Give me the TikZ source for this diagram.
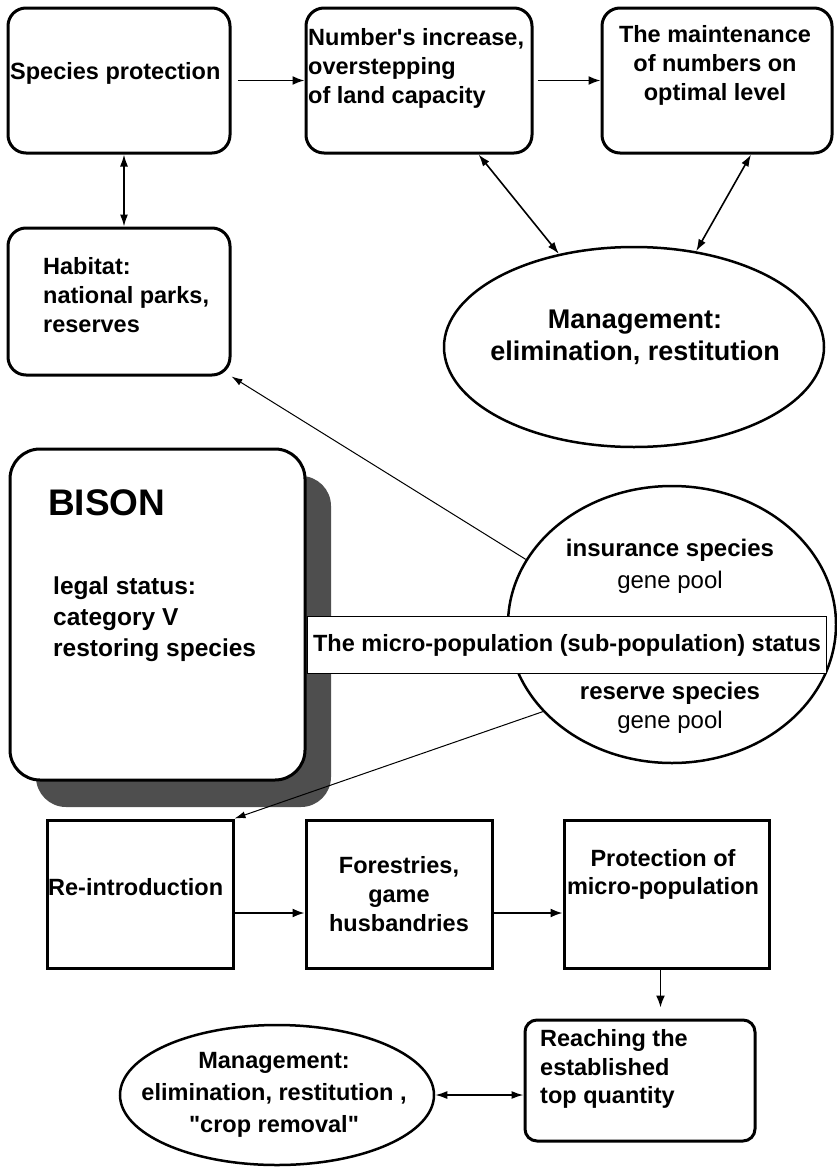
\documentclass[tikz,border=0pt]{standalone}
\usepackage{fontspec}
\newfontfamily\diagfont{Liberation Sans}
\usetikzlibrary{arrows.meta,shapes.geometric,shadows}
\definecolor{shadowgray}{RGB}{78,78,78}

\begin{document}
\begin{tikzpicture}[x=1pt,y=-1pt,
    box/.style={draw,line width=3pt,rounded corners=18pt,inner sep=0pt},
    sqbox/.style={draw,line width=3pt,inner sep=0pt},
    oval/.style={draw,ellipse,line width=2.5pt,inner sep=0pt},
    txt/.style={inner sep=0pt,font=\diagfont\fontsize{23.5}{29}\selectfont\bfseries},
    arr/.style={line width=1.8pt,-{Latex[length=12pt,width=9pt]}},
    darr/.style={line width=1.6pt,{Latex[length=12pt,width=8pt]}-{Latex[length=12pt,width=8pt]}},
    lnk/.style={line width=1pt,-{Latex[length=11pt,width=7pt]}}]
    \useasboundingbox (0,0) rectangle (836,1167);

    % Top row of boxes
    \node[box,minimum width=222pt,minimum height=145pt] (sp) at (119,80.5) {};
    \node[txt,anchor=west] (tsp) at (10,73) {Species protection};
    \node[box,minimum width=226pt,minimum height=145pt] (num) at (419,80.5) {};
    \node[txt,anchor=west,align=left] (tnum) at (308,68) {Number's increase,\\overstepping\\of land capacity};
    \node[box,minimum width=230pt,minimum height=145pt] (mt) at (717,80.5) {};
    \node[txt,align=center] (tmt) at (715,65) {The maintenance\\of numbers on\\optimal level};

    % Habitat and management
    \node[box,minimum width=222pt,minimum height=147pt] (hab) at (119,301.5) {};
    \node[txt,anchor=west,align=left] (thab) at (43,295) {Habitat:\\national parks,\\reserves};
    \node[oval,minimum width=380pt,minimum height=200pt] (mgmt) at (634,347) {};
    \node[txt,align=center,font=\diagfont\fontsize{27}{32}\selectfont\bfseries] (tmgmt) at (635,337) {Management:\\elimination, restitution};

    % Top arrows
    \draw[arr,shorten <=6pt] (sp.east) -- (num.west);
    \draw[arr,shorten <=4pt] (num.east) -- (mt.west);
    \draw[darr] ([xshift=5pt]sp.south) -- ([xshift=5pt]hab.north);
    \draw[darr] (num) -- (mgmt);
    \draw[darr] ([xshift=34pt]mt.south) -- (mgmt.57);

    % Bison box with its shadow
    \node[box,rounded corners=30pt,fill=white,minimum width=295pt,minimum height=331pt,
          drop shadow={shadow xshift=26pt,shadow yshift=-27pt,fill=shadowgray,opacity=1}] (bison) at (157.5,614.5) {};
    \node[txt,anchor=west,font=\diagfont\fontsize{37}{40}\selectfont\bfseries] (tbison) at (48,503) {BISON};
    \node[txt,anchor=west,align=left,font=\diagfont\fontsize{24.5}{31}\selectfont\bfseries] (tlegal) at (53,619) {legal status:\\category V\\restoring species};

    % Gene pool ellipse and status
    \node[oval,minimum width=328pt,minimum height=277pt] (ins) at (672,624.5) {};
    \node[txt,align=center,font=\diagfont\fontsize{24}{32}\selectfont\bfseries] (tins) at (670,566) {insurance species\\{\mdseries gene pool}};
    \node[txt,align=center,font=\diagfont\fontsize{24}{29}\selectfont\bfseries] (tres) at (670,708) {reserve species\\{\mdseries gene pool}};
    \node[draw,txt,line width=1.6pt,fill=white,minimum width=519pt,minimum height=57pt] (status) at (567,645) {The micro-population (sub-population) status};

    % Bottom row of boxes
    \node[sqbox,minimum width=186pt,minimum height=148pt] (re) at (140,894) {};
    \node[txt,anchor=west] (tre) at (48,887) {Re-introduction};
    \node[sqbox,txt,align=center,minimum width=186pt,minimum height=148pt] (fo) at (399,894) {Forestries,\\game\\husbandries};
    \node[sqbox,minimum width=205pt,minimum height=148pt] (pr) at (666.5,894) {};
    \node[txt,align=center,font=\diagfont\fontsize{23.5}{28}\selectfont\bfseries] (tpr) at (663,874) {Protection of\\micro-population};
    \node[box,rounded corners=12pt,minimum width=230pt,minimum height=121pt] (reach) at (640,1080.5) {};
    \node[txt,anchor=west,align=left,font=\diagfont\fontsize{23.5}{28.5}\selectfont\bfseries] (treach) at (540,1069) {Reaching the\\established\\top quantity};
    \node[oval,minimum width=314pt,minimum height=140pt] (mg2) at (277,1095) {};
    \node[txt,align=center,font=\diagfont\fontsize{23.5}{32}\selectfont\bfseries] (tmg2) at (274,1095) {Management:\\elimination, restitution ,\\"crop removal"};

    % Links from the gene pool ellipse
    \draw[lnk] (ins.156) -- (hab.south east);
    \draw[lnk] (ins.214) -- (re.north east);

    % Bottom arrows
    \draw[arr] ([yshift=-19pt]re.east) -- ([yshift=-19pt]fo.west);
    \draw[arr] ([yshift=-19pt]fo.east) -- ([yshift=-19pt]pr.west);
    \draw[arr,shorten >=11pt] ([xshift=-6pt]pr.south) -- ([xshift=-6pt]pr.south |- reach.north);
    \draw[darr] (mg2.east) -- (mg2.east -| reach.west);
\end{tikzpicture}
\end{document}
